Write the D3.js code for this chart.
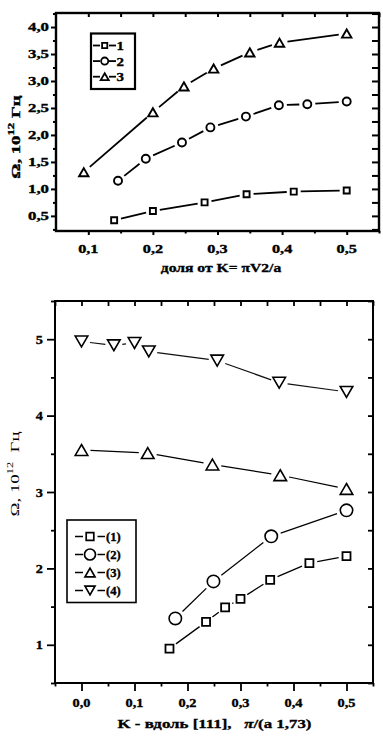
<!DOCTYPE html>
<meta charset="utf-8">
<style>
  body { margin: 0; background: #fff; }
  text { font-family: "Liberation Serif", "Times New Roman", serif; fill: #000; }
  text.heavy { stroke: #000; stroke-width: 0.35; }
</style>
<body>
<div id="chart"></div>
<script src="https://d3js.org/d3.v7.min.js"></script>
<script>

// ---- data ----
// upper plot: fraction of K = pi*sqrt2/a
var topX1 = [0.14, 0.2, 0.28, 0.345, 0.418, 0.5];
var topY1 = [0.42, 0.59, 0.75, 0.90, 0.95, 0.97];
var topX2 = [0.146, 0.189, 0.245, 0.289, 0.344, 0.395, 0.439, 0.5];
var topY2 = [1.15, 1.56, 1.86, 2.14, 2.34, 2.55, 2.57, 2.62];
var topX3 = [0.093, 0.2, 0.248, 0.294, 0.35, 0.396, 0.5];
var topY3 = [1.31, 2.42, 2.90, 3.23, 3.53, 3.71, 3.88];
var topXTicks = [0.1, 0.2, 0.3, 0.4, 0.5];
var topYTicks = [0.5, 1.0, 1.5, 2.0, 2.5, 3.0, 3.5, 4.0];
var topLegend = ["1", "2", "3"];

// lower plot: K along [111]
var botX1 = [0.166, 0.235, 0.271, 0.3, 0.356, 0.43, 0.5];
var botY1 = [0.95, 1.30, 1.49, 1.60, 1.85, 2.07, 2.16];
var botX2 = [0.177, 0.249, 0.358, 0.5];
var botY2 = [1.345, 1.83, 2.42, 2.76];
var botX3 = [0, 0.125, 0.247, 0.375, 0.5];
var botY3 = [3.55, 3.51, 3.36, 3.22, 3.04];
var botX4 = [0, 0.061, 0.1, 0.127, 0.256, 0.373, 0.5];
var botY4 = [4.97, 4.92, 4.95, 4.84, 4.72, 4.43, 4.31];
var botXTicks = [0.0, 0.1, 0.2, 0.3, 0.4, 0.5];
var botYTicks = [1, 2, 3, 4, 5];
var botLegend = ["(1)", "(2)", "(3)", "(4)"];

var comma = function(d) { return d3.format(".1f")(d).replace(".", ","); };

var svg = d3.select("#chart").append("svg")
    .attr("width", 383)
    .attr("height", 741);

// marker shapes, centred on 0,0
function markerPath(type, s) {
  var p = d3.path();
  if (type == "square") {
    p.rect(-s, -s, 2 * s, 2 * s);
  } else if (type == "circle") {
    p.arc(0, 0, s, 0, 2 * Math.PI);
  } else if (type == "up") {
    var h = s * 1.732 / 2;
    p.moveTo(0, -h); p.lineTo(s, h); p.lineTo(-s, h); p.closePath();
  } else {
    var h2 = s * 1.732 / 2;
    p.moveTo(0, h2); p.lineTo(s, -h2); p.lineTo(-s, -h2); p.closePath();
  }
  return p.toString();
}

// wide bold serif look: text stretched along its own direction
function label(g, x, y, str, opt) {
  opt = opt || {};
  var t = g.append("text")
    .attr("transform", "translate(" + x + "," + y + ")" + (opt.rot ? " rotate(-90)" : "") +
          " scale(" + (opt.sx || 1) + ",1)")
    .attr("text-anchor", opt.anchor || "middle")
    .attr("font-size", opt.size || 12)
    .attr("font-weight", opt.weight || "bold")
    .attr("class", opt.weight == "normal" ? null : "heavy");
  if (str != null) t.text(str);
  return t;
}

// lines with small gaps at each symbol (like Origin)
function drawSeries(g, x, y, xs, ys, type, s, gap, lw, mw, col) {
  var pts = xs.map(function(v, i) { return [x(v), y(ys[i])]; });
  for (var i = 0; i < pts.length - 1; i++) {
    var a = pts[i], b = pts[i + 1];
    var dx = b[0] - a[0], dy = b[1] - a[1], L = Math.sqrt(dx * dx + dy * dy);
    if (L <= 2 * gap) continue;
    var ux = dx / L, uy = dy / L;
    g.append("line")
      .attr("x1", a[0] + ux * gap).attr("y1", a[1] + uy * gap)
      .attr("x2", b[0] - ux * gap).attr("y2", b[1] - uy * gap)
      .attr("stroke", col || "#000").attr("stroke-width", lw);
  }
  g.selectAll(null).data(pts).enter().append("path")
    .attr("transform", function(d) { return "translate(" + d[0] + "," + d[1] + ")"; })
    .attr("d", markerPath(type, s))
    .attr("fill", "#fff").attr("stroke", "#000").attr("stroke-width", mw);
}

function ticks(g, axisFn, scale, vals, size, tx, ty, sw) {
  g.append("g")
    .attr("transform", "translate(" + tx + "," + ty + ")")
    .call(axisFn(scale).tickValues(vals).tickSize(size).tickSizeOuter(0).tickFormat(""))
    .call(function(a) { a.select(".domain").remove(); })
    .selectAll("line").attr("stroke-width", sw);
}

// ================= upper plot =================
var t = svg.append("g");
var tx = d3.scaleLinear().domain([0.05, 0.55]).range([56, 379]);
var ty = d3.scaleLinear().domain([0.22, 4.26]).range([231, 13]);

var tMinorX = d3.range(0.1, 0.551, 0.05).map(function(v) { return +v.toFixed(2); });
var tMinorY = d3.range(0.25, 4.26, 0.25).map(function(v) { return +v.toFixed(2); });

ticks(t, d3.axisBottom, tx, topXTicks, 4, 0, 231, 2);
ticks(t, d3.axisBottom, tx, tMinorX.filter(function(v) { return topXTicks.indexOf(v) < 0; }), 2.5, 0, 231, 2);
ticks(t, d3.axisTop, tx, tMinorX, -4, 0, 13, 2);
ticks(t, d3.axisLeft, ty, topYTicks, 5, 56, 0, 2);
ticks(t, d3.axisLeft, ty, tMinorY.filter(function(v) { return topYTicks.indexOf(v) < 0; }), 3, 56, 0, 2);
ticks(t, d3.axisRight, ty, tMinorY, -7, 379, 0, 2);

t.append("rect")
  .attr("x", tx.range()[0]).attr("y", ty.range()[1])
  .attr("width", tx.range()[1] - tx.range()[0]).attr("height", ty.range()[0] - ty.range()[1])
  .attr("fill", "none").attr("stroke", "#000").attr("stroke-width", 2.4);

topXTicks.forEach(function(v) { label(t, tx(v), 252.5, comma(v), {size: 12.5, sx: 1.3}); });
topYTicks.forEach(function(v) { label(t, 49, ty(v) + 4, comma(v), {size: 12, sx: 1.4, anchor: "end"}); });

label(t, 221, 272, "доля от K= πV2/a", {size: 12.5, sx: 1.25});

var tyl = label(t, 19.5, 137, null, {size: 12.5, sx: 1.5, rot: true});
tyl.append("tspan").text("Ω, 10");
tyl.append("tspan").attr("dy", -6).attr("font-size", 8.5).text("12");
tyl.append("tspan").attr("dy", 6).text(" Гц");

drawSeries(t, tx, ty, topX1, topY1, "square", 3, 7, 1.8, 1.9);
drawSeries(t, tx, ty, topX2, topY2, "circle", 4, 8, 1.8, 1.9);
drawSeries(t, tx, ty, topX3, topY3, "up", 4.7, 8, 1.8, 1.9);

// legend
var tl = t.append("g");
tl.append("rect").attr("x", 91).attr("y", 33.5).attr("width", 44).attr("height", 55.5)
  .attr("fill", "#fff").attr("stroke", "#000").attr("stroke-width", 2.2);
var tTypes = ["square", "circle", "up"];
var tSz = [2.6, 3.6, 4];
topLegend.forEach(function(name, i) {
  var yy = 45.5 + i * 15.6;
  tl.append("line").attr("x1", 93).attr("x2", 100).attr("y1", yy).attr("y2", yy).attr("stroke", "#000").attr("stroke-width", 1.8);
  tl.append("line").attr("x1", 109).attr("x2", 116).attr("y1", yy).attr("y2", yy).attr("stroke", "#000").attr("stroke-width", 1.8);
  tl.append("path").attr("transform", "translate(104.7," + yy + ")").attr("d", markerPath(tTypes[i], tSz[i]))
    .attr("fill", "#fff").attr("stroke", "#000").attr("stroke-width", 1.8);
  label(tl, 116.5, yy + 4.5, name, {size: 13, sx: 1.15, anchor: "start"});
});

// ================= lower plot =================
var b = svg.append("g");
var bx = d3.scaleLinear().domain([-0.05, 0.55]).range([55, 373]);
var by = d3.scaleLinear().domain([0.5, 5.5]).range([683, 301]);

var bMinorX = d3.range(-0.05, 0.551, 0.05).map(function(v) { return +v.toFixed(2); });
var bMinorY = d3.range(0.5, 5.51, 0.5).map(function(v) { return +v.toFixed(1); });

ticks(b, d3.axisBottom, bx, botXTicks, 8, 0, 683, 1.8);
ticks(b, d3.axisBottom, bx, bMinorX.filter(function(v) { return botXTicks.indexOf(v) < 0; }), 3.5, 0, 683, 1.8);
ticks(b, d3.axisTop, bx, bMinorX, -5, 0, 301, 1.8);
ticks(b, d3.axisLeft, by, botYTicks, 8, 55, 0, 1.8);
ticks(b, d3.axisLeft, by, bMinorY.filter(function(v) { return botYTicks.indexOf(v) < 0; }), 4, 55, 0, 1.8);
ticks(b, d3.axisRight, by, bMinorY, -5, 373, 0, 1.8);

b.append("rect")
  .attr("x", bx.range()[0]).attr("y", by.range()[1])
  .attr("width", bx.range()[1] - bx.range()[0]).attr("height", by.range()[0] - by.range()[1])
  .attr("fill", "none").attr("stroke", "#000").attr("stroke-width", 2);

botXTicks.forEach(function(v) { label(b, bx(v), 707, comma(v), {size: 12.5, sx: 1.15}); });
botYTicks.forEach(function(v) { label(b, 43, by(v) + 4.5, String(v), {size: 13, sx: 1.1, anchor: "end"}); });

var bxl = label(b, 214.5, 728, null, {size: 13.5, sx: 1.25});
bxl.append("tspan").text("K - вдоль [111],\u00a0\u00a0\u00a0");
bxl.append("tspan").attr("font-style", "italic").text("π");
bxl.append("tspan").text("/(a 1,73)");

var byl = label(b, 19, 474, null, {size: 13, sx: 1.45, rot: true, weight: "normal"});
byl.append("tspan").text("Ω, 10");
byl.append("tspan").attr("dy", -6).attr("font-size", 8.5).text("12");
byl.append("tspan").attr("dy", 6).text("\u00a0\u00a0Гц");

drawSeries(b, bx, by, botX4, botY4, "down", 6.3, 8.5, 1.2, 1.6, "#111");
drawSeries(b, bx, by, botX3, botY3, "up", 6.3, 9, 1.2, 1.6);
drawSeries(b, bx, by, botX2, botY2, "circle", 6.2, 10, 1.3, 1.6);
drawSeries(b, bx, by, botX1, botY1, "square", 4, 8, 1.3, 1.8);

var bl = b.append("g");
bl.append("rect").attr("x", 67).attr("y", 520).attr("width", 69).attr("height", 82.5)
  .attr("fill", "#fff").attr("stroke", "#000").attr("stroke-width", 1.6);
var bTypes = ["square", "circle", "up", "down"];
var bSz = [3.8, 5.5, 5, 5];
botLegend.forEach(function(name, i) {
  var yy = 536.5 + i * 18;
  bl.append("line").attr("x1", 75).attr("x2", 83).attr("y1", yy).attr("y2", yy).attr("stroke", "#000").attr("stroke-width", 1.5);
  bl.append("line").attr("x1", 97.5).attr("x2", 105).attr("y1", yy).attr("y2", yy).attr("stroke", "#000").attr("stroke-width", 1.5);
  bl.append("path").attr("transform", "translate(90," + yy + ")").attr("d", markerPath(bTypes[i], bSz[i]))
    .attr("fill", "#fff").attr("stroke", "#000").attr("stroke-width", 1.7);
  label(bl, 106, yy + 4, name, {size: 12, sx: 1.05, anchor: "start"});
});

</script>
</body>
